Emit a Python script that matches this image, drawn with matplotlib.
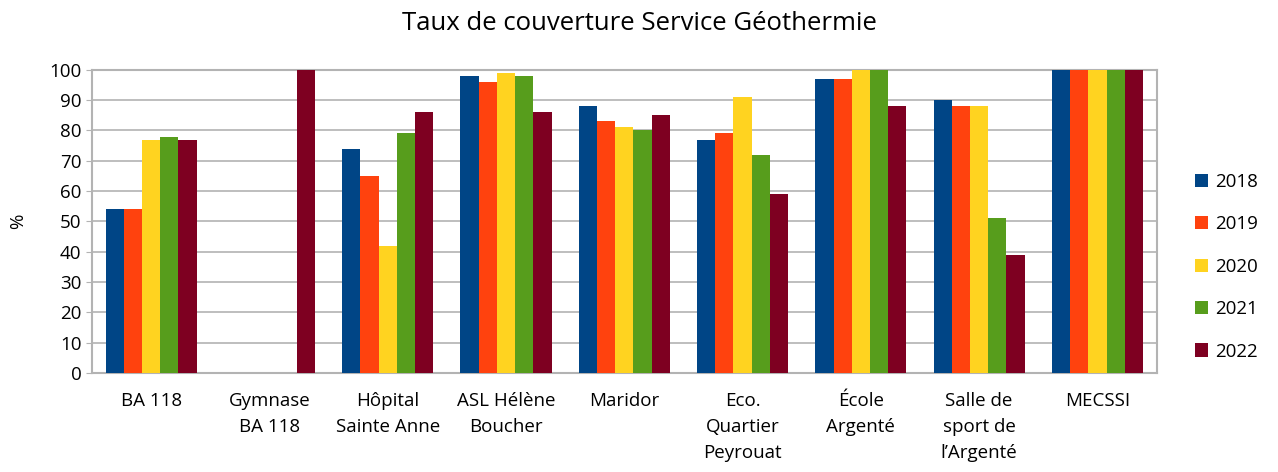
import numpy as np
import matplotlib
matplotlib.use("Agg")
import matplotlib.pyplot as plt

plt.rcParams["font.family"] = ["Open Sans", "DejaVu Sans"]

sites = [
    "BA 118",
    "Gymnase\nBA 118",
    "Hôpital\nSainte Anne",
    "ASL Hélène\nBoucher",
    "Maridor",
    "Eco.\nQuartier\nPeyrouat",
    "École\nArgenté",
    "Salle de\nsport de\nl’Argenté",
    "MECSSI",
]
years = ["2018", "2019", "2020", "2021", "2022"]

taux_2018 = [54, 0, 74, 98, 88, 77, 97, 90, 100]
taux_2019 = [54, 0, 65, 96, 83, 79, 97, 88, 100]
taux_2020 = [77, 0, 42, 99, 81, 91, 100, 88, 100]
taux_2021 = [78, 0, 79, 98, 80, 72, 100, 51, 100]
taux_2022 = [77, 100, 86, 86, 85, 59, 88, 39, 100]

series = [taux_2018, taux_2019, taux_2020, taux_2021, taux_2022]
colors = ["#004586", "#ff420e", "#ffd320", "#579d1c", "#7e0021"]

fig = plt.figure(figsize=(12.78, 4.72), dpi=100)
ax = fig.add_axes([0.072, 0.21, 0.833, 0.642])

x = np.arange(len(sites))
bar_w = 0.154
for i, (vals, col, yr) in enumerate(zip(series, colors, years)):
    ax.bar(x + (i - 2) * bar_w, vals, width=bar_w, color=col, label=yr, zorder=3)

ax.set_xlim(-0.5, len(sites) - 0.5)
ax.set_ylim(0, 100)
ax.set_yticks(range(0, 101, 10))
ax.set_xticks(x)
ax.set_xticklabels(sites, fontsize=13.5, linespacing=1.55)
ax.tick_params(axis="y", labelsize=13.5, length=4, color="#b3b3b3")
ax.tick_params(axis="x", length=0, pad=14)
ax.set_ylabel("%", fontsize=13.5, labelpad=16)

ax.grid(axis="y", color="#b3b3b3", linewidth=1.2, zorder=0)
for sp in ax.spines.values():
    sp.set_color("#b3b3b3")
    sp.set_linewidth(1.5)

fig.suptitle("Taux de couverture Service Géothermie", fontsize=18.5, y=0.977)

ax.legend(loc="center left", bbox_to_anchor=(1.02, 0.35), frameon=False,
          fontsize=13.5, handlelength=0.7, handleheight=0.7,
          labelspacing=1.3, handletextpad=0.4)

fig.savefig("out.png", dpi=100)
